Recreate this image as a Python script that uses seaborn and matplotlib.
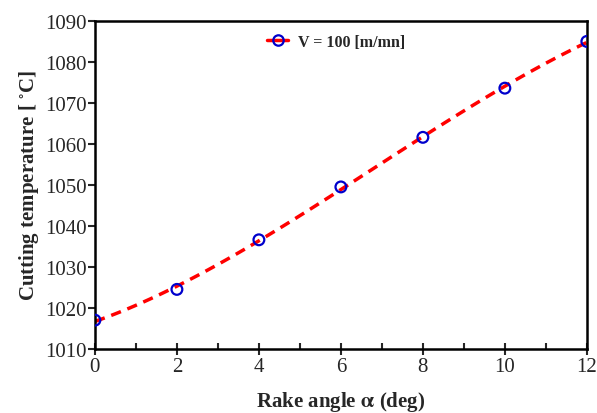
import numpy as np
import pandas as pd
import seaborn as sns
import matplotlib
matplotlib.use("Agg")
import matplotlib.pyplot as plt
from matplotlib.lines import Line2D
from matplotlib.ticker import MultipleLocator

rake_angle = [0, 2, 4, 6, 8, 10, 12]
temperature = [1017.0, 1024.5, 1036.6, 1049.5, 1061.6, 1073.6, 1085.0]
legend_label = "V = 100 [m/mn]"

sns.set_theme(style="ticks")
plt.rcParams['font.family'] = ['Liberation Serif', 'DejaVu Serif']
plt.rcParams['mathtext.fontset'] = 'stix'

df = pd.DataFrame({"angle": rake_angle, "temp": temperature})

fig = plt.figure(figsize=(5.97, 4.14), dpi=100)
ax = fig.add_axes([0.159, 0.155, 0.824, 0.792])

sns.regplot(data=df, x="angle", y="temp", order=3, ci=None, ax=ax,
            scatter=False, truncate=True,
            line_kws=dict(color="#ff0000", lw=2.5, ls=(0, (3, 2.0))))
sns.scatterplot(data=df, x="angle", y="temp", ax=ax, marker="o", s=60,
                facecolor="none", edgecolor="#0000cc", linewidth=1.6, zorder=5)

ax.set_xlim(0, 12)
ax.set_ylim(1010, 1090)
ax.xaxis.set_major_locator(MultipleLocator(2))
ax.xaxis.set_minor_locator(MultipleLocator(1))
ax.yaxis.set_major_locator(MultipleLocator(10))
ax.tick_params(axis='x', which='major', direction='inout', length=8, width=1.5, labelsize=15, pad=2)
ax.tick_params(axis='x', which='minor', direction='in', length=4, width=1.5)
ax.tick_params(axis='y', which='major', direction='out', length=5, width=1.5, labelsize=15, pad=1)
for s in ax.spines.values():
    s.set_linewidth(1.8)
    s.set_color('black')

ax.set_xlabel(r"Rake angle $\mathbf{\alpha}$ (deg)", fontsize=15, fontweight='bold', labelpad=9)
ax.set_ylabel(r"Cutting temperature [ $^{\circ}$C]", fontsize=15, fontweight='bold', labelpad=3)

handle = Line2D([], [], color="#ff0000", lw=2.5, ls='-', marker='o', markersize=7.5,
                markerfacecolor='none', markeredgecolor='#0000cc', markeredgewidth=1.6)
ax.legend([handle], [legend_label], loc='upper center', bbox_to_anchor=(0.49, 1.005),
          frameon=False, prop=dict(family='Liberation Serif', weight='bold', size=11.5),
          handlelength=1.3, handletextpad=0.6)

fig.savefig("out.png", dpi=100)
